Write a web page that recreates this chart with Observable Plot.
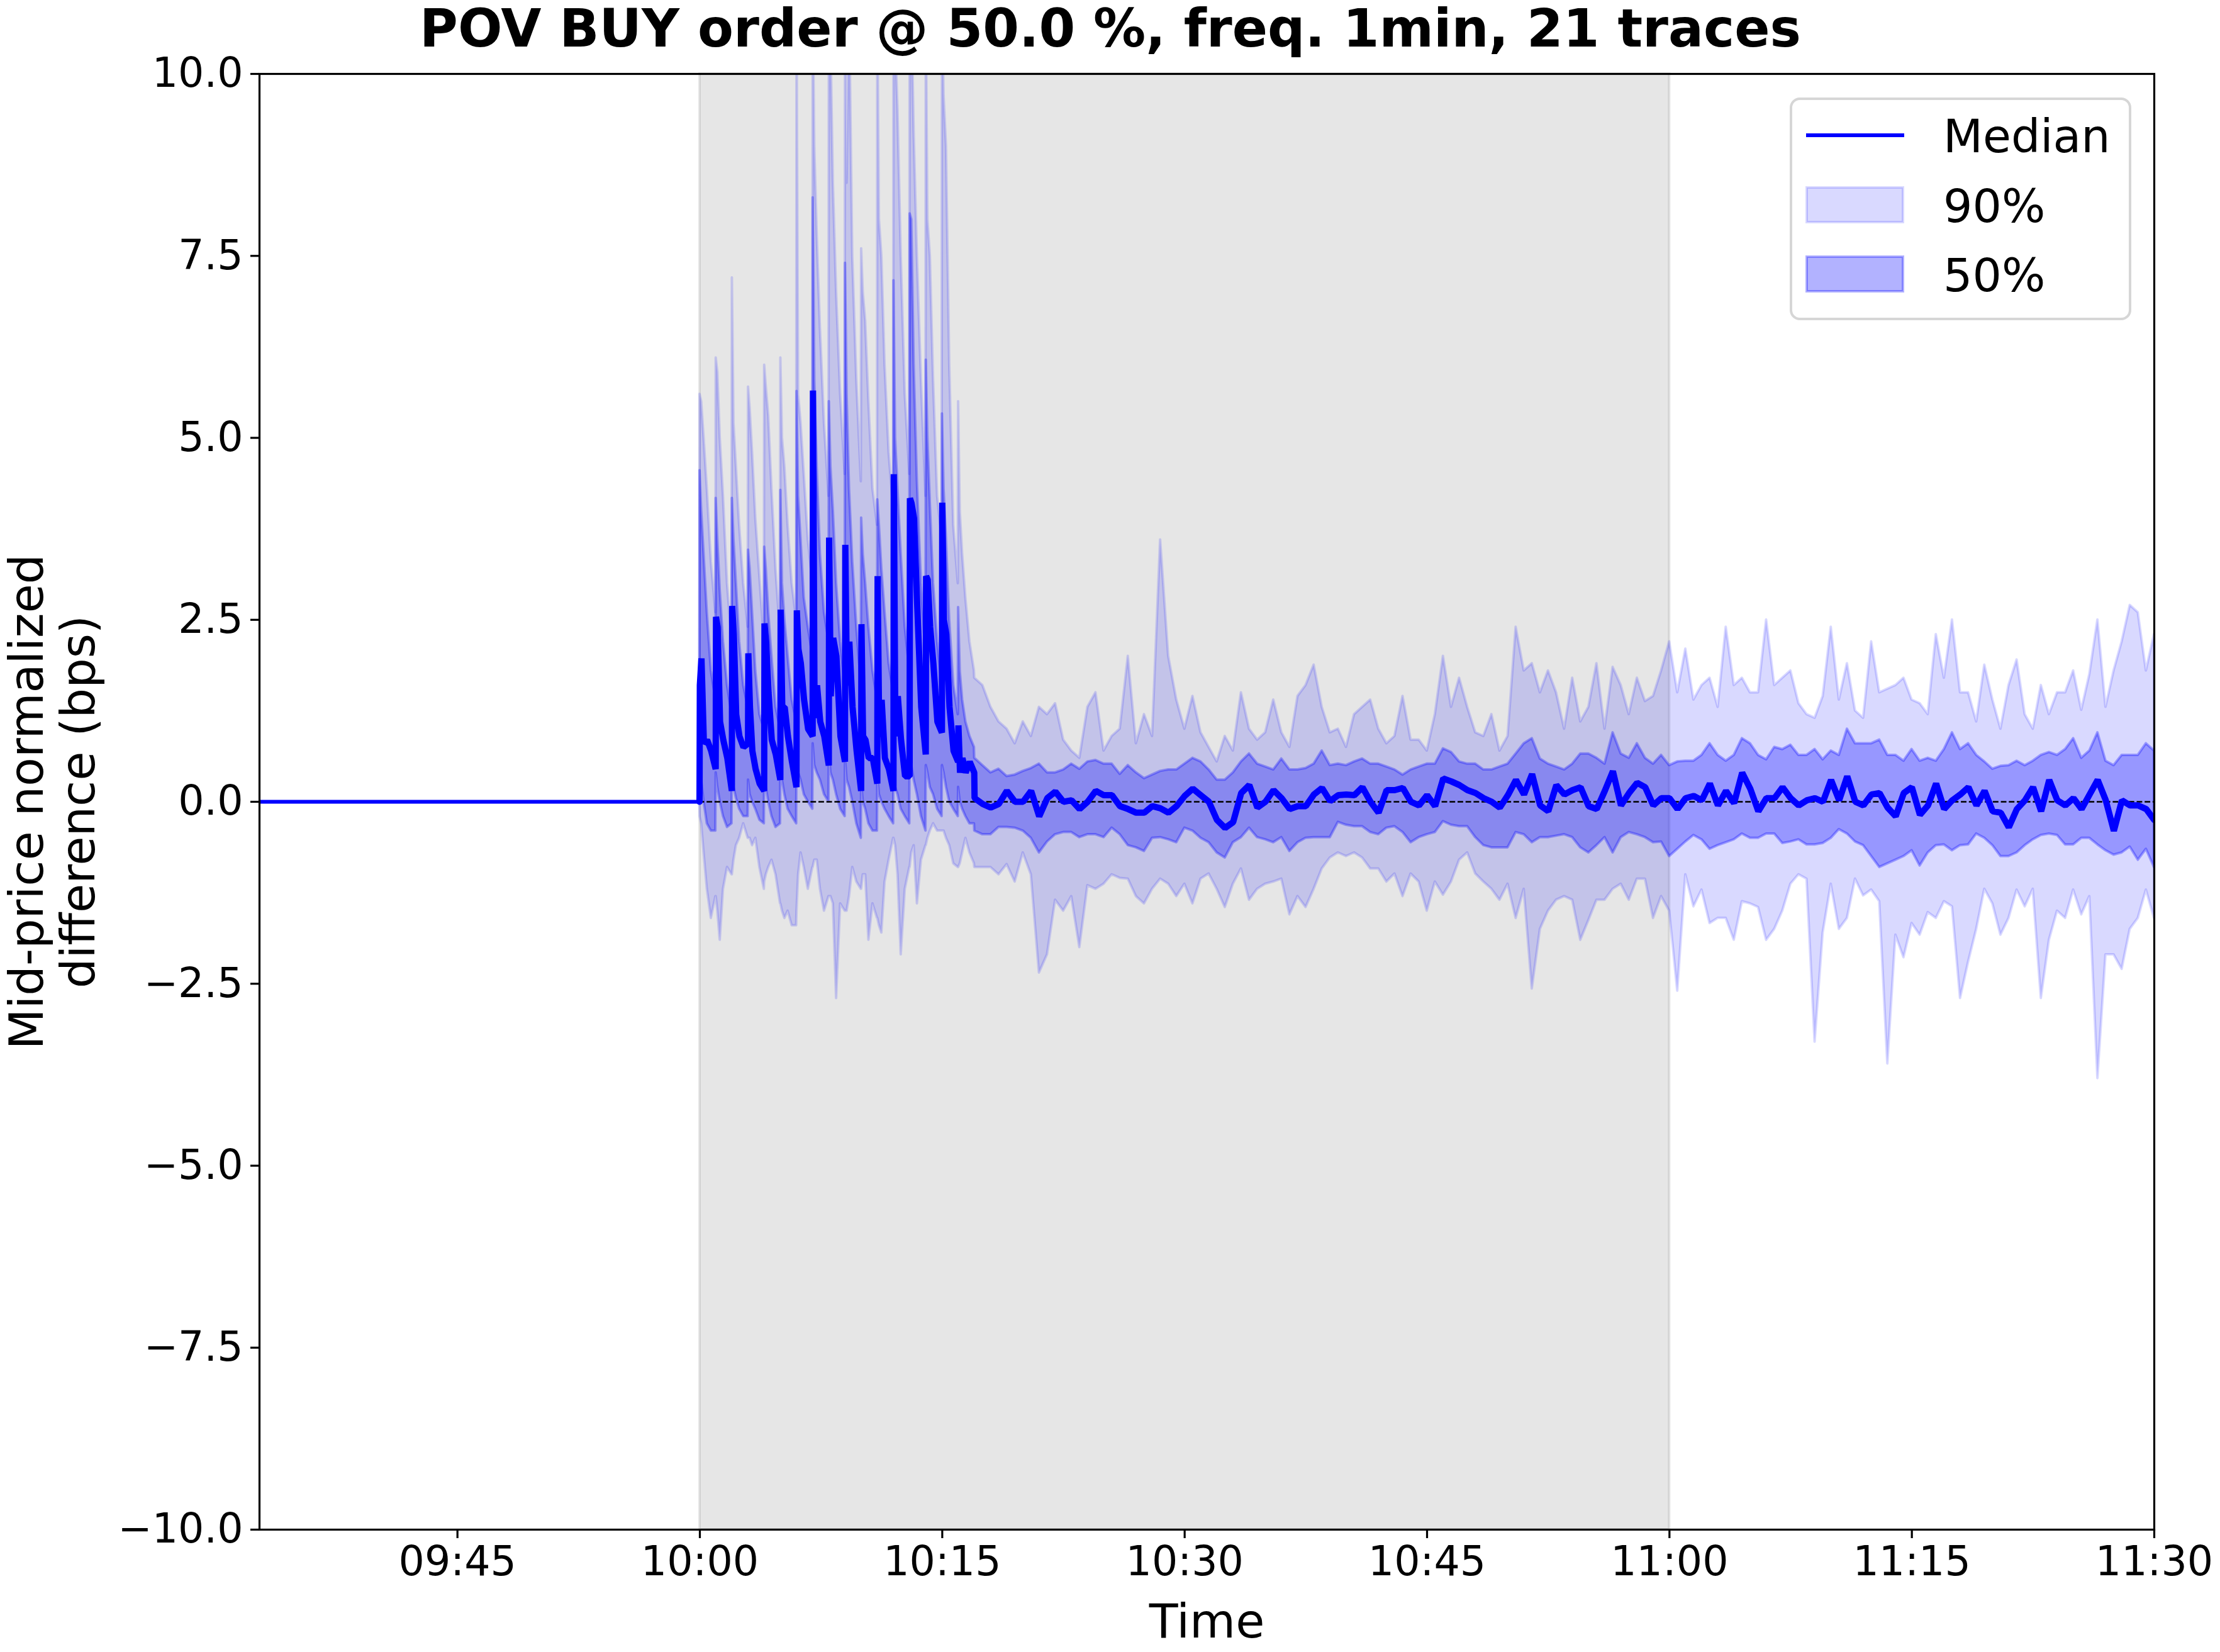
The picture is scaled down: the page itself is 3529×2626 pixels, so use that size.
<!DOCTYPE html>
<html>
<head>
<meta charset="utf-8">
<script src="https://cdn.jsdelivr.net/npm/d3@7"></script>
<script src="https://cdn.jsdelivr.net/npm/@observablehq/plot@0.6"></script>
<style>
  html, body { margin: 0; padding: 0; background: #fff; }
  #wrap { position: relative; width: 3529px; height: 2626px; font-family: "DejaVu Sans", sans-serif; }
  #legend { position: absolute; left: 2845px; top: 155px; }
</style>
</head>
<body>
<div id="wrap"></div>
<script>
// ---------------- DATA ----------------
const titleText = "POV BUY order @ 50.0 %, freq. 1min, 21 traces";
const xLabel = "Time";
const yLabel = "Mid-price normalized\ndifference (bps)";
const xTickLabels = ["09:45", "10:00", "10:15", "10:30", "10:45", "11:00", "11:15", "11:30"];
const yTickValues = [-10, -7.5, -5, -2.5, 0, 2.5, 5, 7.5, 10];
const xStartLabel = "09:32:45";   // left edge of the axes
const xEndLabel = "11:30:00";
const spanStartLabel = "10:00:00"; // shaded execution window
const spanEndLabel = "11:00:00";
const legendItems = ["Median", "90%", "50%"];

// Execution window 10:00-10:17: one sample set per minute (minutes after 10:00),
// values at offsets within each minute.
const spikeOffsets = [0, 0.1, 0.25, 0.45, 0.7, 0.98];
const spikeMinutes = [0, 1, 2, 3, 4, 5, 6, 7, 8, 9, 10, 11, 12, 13, 14, 15, 16];
const medSpike = [
  [1.6, 1.97, 0.8, 0.85, 0.7, 0.45],
  [2.54, 2.4, 1.1, 0.85, 0.6, 0.15],
  [2.69, 2.3, 1.2, 0.9, 0.75, 0.8],
  [2.04, 1.3, 0.7, 0.45, 0.25, 0.15],
  [2.45, 2.2, 1.5, 0.85, 0.65, 0.3],
  [2.64, 1.3, 1.3, 0.9, 0.55, 0.2],
  [2.63, 2.1, 1.9, 1.4, 1.0, 0.9],
  [5.65, 1.15, 1.6, 1.1, 0.9, 0.5],
  [3.63, 1.45, 2.25, 2.0, 0.9, 0.55],
  [3.53, 1.6, 2.2, 1.3, 0.7, 0.15],
  [2.44, 0.9, 0.85, 0.6, 0.6, 0.25],
  [3.1, 0.9, 1.4, 0.6, 0.45, 0.15],
  [4.5, 0.9, 1.45, 0.85, 0.35, 0.35],
  [4.17, 4.1, 3.9, 2.7, 1.3, 0.65],
  [3.1, 3.05, 2.4, 1.9, 1.1, 0.95],
  [4.11, 2.5, 2.3, 1.3, 0.7, 0.55],
  [1.05, 0.4, 0.6, 0.4, 0.55, 0.4]
];
const q95Spike = [
  [5.6, 5.5, 5.0, 4.3, 3.3, 2.6],
  [6.1, 5.9, 5.0, 4.2, 3.0, 2.2],
  [7.2, 5.2, 4.6, 3.8, 3.0, 2.4],
  [5.7, 5.4, 4.8, 3.9, 3.1, 2.2],
  [6.0, 5.7, 5.3, 4.3, 3.2, 2.3],
  [6.1, 5.0, 4.6, 3.8, 3.0, 2.5],
  [11, 5.6, 5.2, 4.5, 3.6, 3.0],
  [11, 9.0, 7.8, 6.5, 5.2, 4.2],
  [11, 10.5, 8.5, 7.0, 5.6, 4.5],
  [11, 8.5, 11, 7.5, 5.8, 4.4],
  [7.6, 7.0, 6.6, 5.5, 4.3, 3.8],
  [11, 8.0, 7.5, 6.0, 4.8, 4.0],
  [11, 10.5, 9.5, 7.5, 5.6, 4.5],
  [11, 11, 9.2, 7.5, 5.8, 4.2],
  [11, 8.0, 7.5, 5.8, 4.2, 3.6],
  [11, 9.7, 9.0, 6.0, 3.8, 3.0],
  [5.5, 4.0, 3.4, 2.8, 2.2, 1.8]
];
const q75Spike = [
  [4.55, 4.0, 3.4, 2.6, 1.8, 1.4],
  [4.17, 3.6, 2.9, 2.2, 1.6, 1.2],
  [4.17, 3.6, 3.0, 2.2, 1.6, 1.3],
  [3.46, 3.2, 2.6, 1.8, 1.2, 1.0],
  [3.5, 3.2, 2.6, 2.0, 1.3, 1.0],
  [4.28, 3.0, 2.5, 2.0, 1.4, 1.1],
  [5.64, 4.2, 3.6, 2.8, 2.4, 2.0],
  [8.3, 5.8, 4.6, 3.4, 2.6, 2.2],
  [5.5, 4.6, 4.0, 3.0, 2.2, 1.6],
  [7.4, 5.6, 4.3, 3.3, 2.4, 1.6],
  [3.9, 3.4, 3.0, 2.4, 1.8, 1.4],
  [4.15, 3.8, 3.2, 2.6, 1.9, 1.5],
  [7.16, 5.0, 4.3, 3.4, 2.4, 1.8],
  [8.08, 8.0, 6.0, 4.4, 3.0, 2.0],
  [6.07, 5.0, 4.1, 3.0, 2.2, 1.6],
  [5.33, 4.3, 3.6, 2.5, 1.6, 1.2],
  [2.67, 1.8, 1.4, 1.1, 0.9, 0.75]
];
const q25Spike = [
  [0.6, 0.3, 0.0, -0.3, -0.4, -0.4],
  [0.4, 0.2, 0.0, -0.2, -0.35, -0.3],
  [0.5, 0.2, 0.05, -0.1, -0.2, -0.2],
  [0.3, 0.1, 0.0, -0.1, -0.25, -0.3],
  [0.4, 0.2, 0.0, -0.2, -0.35, -0.3],
  [0.5, 0.3, 0.1, -0.1, -0.2, -0.3],
  [0.6, 0.4, 0.3, 0.1, 0.0, -0.1],
  [0.8, 0.5, 0.4, 0.3, 0.1, 0.0],
  [0.7, 0.4, 0.3, 0.1, -0.1, -0.2],
  [0.6, 0.3, 0.2, 0.0, -0.3, -0.5],
  [0.3, 0.0, -0.1, -0.3, -0.4, -0.4],
  [0.4, 0.1, 0.0, -0.1, -0.2, -0.3],
  [0.5, 0.2, 0.1, -0.1, -0.2, -0.3],
  [0.6, 0.5, 0.3, 0.1, -0.2, -0.4],
  [0.5, 0.4, 0.2, 0.1, -0.1, -0.2],
  [0.5, 0.4, 0.2, 0.0, -0.1, -0.2],
  [0.2, 0.0, -0.1, -0.2, -0.3, -0.3]
];
const q05Spike = [
  [-0.2, -0.3, -0.7, -1.2, -1.6, -1.3],
  [-1.3, -1.5, -1.9, -1.2, -0.9, -1.0],
  [-1.0, -0.8, -0.6, -0.5, -0.3, -0.5],
  [-0.5, -0.5, -0.6, -0.5, -0.9, -1.2],
  [-1.1, -1.0, -0.9, -0.8, -1.0, -1.4],
  [-1.4, -1.5, -1.6, -1.5, -1.7, -1.7],
  [-1.5, -1.0, -0.7, -0.9, -1.2, -0.9],
  [-0.9, -0.8, -0.8, -1.2, -1.5, -1.3],
  [-1.3, -1.3, -1.4, -2.7, -1.4, -1.5],
  [-1.5, -1.5, -1.3, -0.9, -1.1, -1.2],
  [-1.2, -1.0, -1.0, -1.9, -1.4, -1.6],
  [-1.6, -1.7, -1.8, -1.1, -0.8, -0.5],
  [-0.5, -0.6, -1.0, -2.1, -1.2, -0.9],
  [-0.9, -0.7, -0.6, -1.4, -0.8, -0.6],
  [-0.6, -0.5, -0.4, -0.3, -0.4, -0.4],
  [-0.4, -0.4, -0.5, -0.6, -0.85, -0.9],
  [-0.9, -0.85, -0.7, -0.5, -0.7, -0.85]
];

// After the bursts: one sample every half minute, 17.0 ... 90.0 minutes after 10:00
const lateStep = 0.5, lateStart = 17;
const medLate = [
  0.05,-0.03,-0.08,-0.03,0.15,
  0.0,0.0,0.15,-0.2,0.05,0.14,0.0,0.02,-0.1,0.0,
  0.15,0.09,0.09,-0.06,-0.1,-0.15,-0.15,-0.06,-0.09,-0.15,
  -0.06,0.08,0.18,0.09,0.0,-0.25,-0.36,-0.28,0.12,0.23,
  -0.08,0.0,0.16,0.05,-0.1,-0.06,-0.06,0.1,0.19,0.01,
  0.09,0.1,0.09,0.2,0.0,-0.15,0.16,0.16,0.19,0.0,
  -0.05,0.09,-0.06,0.32,0.28,0.23,0.16,0.12,0.05,0.0,
  -0.08,0.09,0.3,0.1,0.38,-0.05,-0.13,0.23,0.1,0.16,
  0.2,-0.06,-0.1,0.15,0.42,-0.05,0.12,0.26,0.2,-0.05,
  0.05,0.05,-0.1,0.05,0.08,0.02,0.25,-0.05,0.15,-0.02,
  0.4,0.18,-0.13,0.05,0.05,0.2,0.05,-0.05,0.02,0.05,
  0.0,0.3,0.02,0.35,0.0,-0.05,0.1,0.12,-0.08,-0.2,
  0.12,0.2,-0.18,-0.05,0.25,-0.1,0.02,0.1,0.2,-0.05,
  0.15,-0.13,-0.15,-0.35,-0.1,0.02,0.2,-0.13,0.3,0.02,
  -0.05,0.05,-0.1,0.1,0.3,0.02,-0.4,0.02,-0.05,-0.05,-0.1,-0.25
];
const q95Late = [
  1.7,1.6,1.3,1.1,1.0,
  0.8,1.1,0.9,1.3,1.2,1.35,0.85,0.7,0.6,1.3,
  1.5,0.7,0.9,1.0,2.0,0.8,1.2,0.9,3.6,2.0,
  1.4,1.0,1.45,0.95,0.75,0.55,0.9,0.7,1.5,1.0,
  0.85,0.95,1.4,0.95,0.75,1.45,1.6,1.88,1.3,0.95,
  1.0,0.75,1.2,1.3,1.4,1.0,0.8,0.9,1.45,0.85,
  0.85,0.7,1.2,2.0,1.3,1.7,1.3,0.95,0.9,1.2,
  0.7,0.9,2.4,1.8,1.9,1.5,1.8,1.5,1.0,1.7,
  1.1,1.3,1.9,1.0,1.85,1.6,1.2,1.7,1.38,1.45,
  1.8,2.2,1.5,2.1,1.4,1.6,1.7,1.3,2.4,1.6,
  1.7,1.5,1.5,2.5,1.6,1.7,1.8,1.35,1.2,1.15,
  1.45,2.4,1.4,1.9,1.25,1.15,2.2,1.5,1.55,1.6,
  1.7,1.4,1.35,1.2,2.3,1.7,2.5,1.5,1.5,1.1,
  1.88,1.4,1.0,1.6,1.95,1.2,1.0,1.6,1.2,1.5,
  1.5,1.8,1.26,1.75,2.5,1.3,1.8,2.2,2.7,2.6,1.8,2.3
];
const q75Late = [
  0.6,0.5,0.4,0.45,0.35,
  0.37,0.42,0.46,0.52,0.4,0.4,0.44,0.52,0.45,0.55,
  0.57,0.52,0.52,0.38,0.5,0.4,0.32,0.37,0.42,0.44,
  0.44,0.52,0.6,0.55,0.44,0.3,0.3,0.4,0.55,0.66,
  0.52,0.48,0.44,0.59,0.44,0.44,0.46,0.52,0.7,0.5,
  0.52,0.5,0.55,0.59,0.52,0.52,0.48,0.44,0.37,0.44,
  0.48,0.52,0.52,0.73,0.68,0.55,0.52,0.52,0.44,0.44,
  0.48,0.52,0.66,0.8,0.87,0.59,0.52,0.48,0.44,0.52,
  0.66,0.66,0.6,0.52,0.95,0.66,0.6,0.8,0.6,0.52,
  0.64,0.5,0.55,0.56,0.56,0.64,0.8,0.64,0.56,0.64,
  0.87,0.8,0.64,0.58,0.75,0.72,0.78,0.64,0.64,0.72,
  0.58,0.7,0.64,1.0,0.8,0.8,0.8,0.85,0.64,0.64,
  0.56,0.72,0.56,0.6,0.56,0.72,0.95,0.72,0.8,0.64,
  0.55,0.45,0.49,0.5,0.56,0.5,0.56,0.64,0.68,0.64,
  0.72,0.87,0.6,0.7,0.95,0.56,0.5,0.64,0.64,0.64,0.8,0.7
];
const q25Late = [
  -0.4,-0.45,-0.45,-0.35,-0.35,
  -0.36,-0.4,-0.5,-0.7,-0.55,-0.45,-0.42,-0.42,-0.49,-0.45,
  -0.45,-0.49,-0.36,-0.45,-0.6,-0.63,-0.68,-0.5,-0.49,-0.52,
  -0.56,-0.36,-0.4,-0.5,-0.56,-0.7,-0.77,-0.56,-0.49,-0.36,
  -0.49,-0.52,-0.56,-0.49,-0.68,-0.56,-0.5,-0.49,-0.49,-0.49,
  -0.28,-0.32,-0.34,-0.34,-0.42,-0.45,-0.36,-0.34,-0.42,-0.56,
  -0.49,-0.45,-0.42,-0.27,-0.32,-0.34,-0.34,-0.49,-0.6,-0.63,
  -0.63,-0.63,-0.42,-0.45,-0.56,-0.49,-0.49,-0.47,-0.45,-0.49,
  -0.63,-0.7,-0.6,-0.49,-0.7,-0.49,-0.42,-0.45,-0.49,-0.56,
  -0.55,-0.75,-0.65,-0.55,-0.46,-0.52,-0.65,-0.6,-0.56,-0.52,
  -0.44,-0.5,-0.5,-0.44,-0.44,-0.57,-0.55,-0.52,-0.59,-0.59,
  -0.57,-0.5,-0.38,-0.44,-0.55,-0.6,-0.75,-0.9,-0.85,-0.8,
  -0.75,-0.67,-0.88,-0.7,-0.6,-0.59,-0.67,-0.6,-0.59,-0.44,
  -0.5,-0.6,-0.75,-0.75,-0.7,-0.6,-0.52,-0.46,-0.44,-0.46,
  -0.59,-0.59,-0.5,-0.5,-0.59,-0.67,-0.73,-0.7,-0.62,-0.8,-0.65,-0.9
];
const q05Late = [
  -0.9,-0.9,-0.9,-1.0,-0.86,
  -1.1,-0.7,-1.0,-2.35,-2.1,-1.35,-1.5,-1.3,-2.0,-1.15,
  -1.2,-1.13,-1.0,-1.05,-1.06,-1.3,-1.4,-1.2,-1.06,-1.13,
  -1.3,-1.13,-1.4,-1.06,-0.99,-1.2,-1.45,-1.13,-0.92,-1.35,
  -1.2,-1.13,-1.1,-1.06,-1.55,-1.3,-1.45,-1.2,-0.92,-0.77,
  -0.7,-0.75,-0.7,-0.77,-0.92,-0.92,-1.1,-0.99,-1.3,-0.99,
  -1.1,-1.5,-1.1,-1.28,-1.1,-0.8,-0.7,-0.99,-1.1,-1.2,
  -1.35,-1.13,-1.6,-1.2,-2.57,-1.75,-1.5,-1.35,-1.3,-1.35,
  -1.9,-1.63,-1.35,-1.35,-1.2,-1.13,-1.35,-1.06,-1.06,-1.6,
  -1.3,-1.5,-2.6,-1.0,-1.44,-1.21,-1.67,-1.6,-1.6,-1.9,
  -1.37,-1.4,-1.45,-1.9,-1.75,-1.5,-1.13,-1.0,-1.06,-3.3,
  -1.8,-1.13,-1.75,-1.6,-1.06,-1.29,-1.21,-1.37,-3.6,-1.83,
  -2.14,-1.67,-1.83,-1.52,-1.6,-1.37,-1.44,-2.7,-2.2,-1.75,
  -1.2,-1.4,-1.83,-1.6,-1.21,-1.44,-1.2,-2.7,-1.9,-1.5,
  -1.6,-1.21,-1.55,-1.3,-3.8,-2.1,-2.1,-2.3,-1.75,-1.6,-1.21,-1.6
];

// ---------------- BUILD TABLE ----------------
const parseT = d3.utcParse("%H:%M:%S");
const parseHM = d3.utcParse("%H:%M");
const T0 = parseT("10:00:00");
const toDate = m => new Date(T0.getTime() + m * 60000);
const xStart = parseT(xStartLabel);
const xEnd = parseT(xEndLabel);
const preStartMin = (xStart - T0) / 60000;

const rows = [];
rows.push({t: toDate(preStartMin), med: 0, q05: 0, q25: 0, q75: 0, q95: 0});
rows.push({t: toDate(-0.02), med: 0, q05: 0, q25: 0, q75: 0, q95: 0});
spikeMinutes.forEach((m, i) => {
  spikeOffsets.forEach((o, k) => {
    rows.push({t: toDate(m + o), med: medSpike[i][k], q05: q05Spike[i][k], q25: q25Spike[i][k], q75: q75Spike[i][k], q95: q95Spike[i][k]});
  });
});
medLate.forEach((v, i) => {
  const m = lateStart + i * lateStep;
  rows.push({t: toDate(m), med: v, q05: q05Late[i], q25: q25Late[i], q75: q75Late[i], q95: q95Late[i]});
});
const rowsBefore = rows.filter(d => d.t <= toDate(-0.02));
const rowsAfter = rows.filter(d => d.t >= toDate(-0.02));

const span = [{a: parseT(spanStartLabel), b: parseT(spanEndLabel)}];
const xTicks = xTickLabels.map(s => parseHM(s));

// ---------------- PLOT ----------------
const W = 3529;
const mL = 412, mR = 105;
const chart = Plot.plot({
  width: W,
  height: 2626,
  marginLeft: mL,
  marginRight: mR,
  marginTop: 117,
  marginBottom: 195,
  style: {fontFamily: "DejaVu Sans, sans-serif", background: "white", color: "black", overflow: "visible"},
  x: {type: "utc", domain: [xStart, xEnd]},
  y: {domain: [-10, 10]},
  marks: [
    Plot.rect(span, {x1: "a", x2: "b", y1: () => -10, y2: () => 10, fill: "gray", fillOpacity: 0.2, stroke: "gray", strokeOpacity: 0.2, strokeWidth: 4}),
    Plot.areaY(rows, {x: "t", y1: "q05", y2: "q95", fill: "blue", fillOpacity: 0.15, stroke: "blue", strokeOpacity: 0.15, strokeWidth: 4, clip: true}),
    Plot.areaY(rows, {x: "t", y1: "q25", y2: "q75", fill: "blue", fillOpacity: 0.3, stroke: "blue", strokeOpacity: 0.3, strokeWidth: 4, clip: true}),
    Plot.ruleY([0], {stroke: "black", strokeWidth: 2.4, strokeDasharray: "8.9,3.8"}),
    Plot.lineY(rowsBefore, {x: "t", y: "med", stroke: "blue", strokeWidth: 6, clip: true}),
    Plot.lineY(rowsAfter, {x: "t", y: "med", stroke: "blue", strokeWidth: 10, strokeLinejoin: "miter", clip: true}),
    Plot.frame({stroke: "black", strokeWidth: 3.2}),
    Plot.axisX({ticks: xTicks, tickFormat: d3.utcFormat("%H:%M"), tickSize: 14, tickPadding: 12, fontSize: 65, strokeWidth: 3.2, label: null}),
    Plot.axisY({ticks: yTickValues, tickFormat: d3.format(".1f"), tickSize: 14, tickPadding: 12, fontSize: 65, strokeWidth: 3.2, label: null}),
    // suptitle: centred on the whole figure
    Plot.text([titleText], {frameAnchor: "top", lineAnchor: "middle", dx: W / 2 - (mL + (W - mL - mR) / 2), dy: -70, fontSize: 83, fontWeight: "bold", fill: "black"}),
    Plot.text([xLabel], {frameAnchor: "bottom", lineAnchor: "middle", dy: 147, fontSize: 75, fill: "black"}),
    Plot.text([yLabel], {frameAnchor: "left", textAnchor: "middle", lineAnchor: "middle", dx: -330, rotate: -90, fontSize: 75, lineHeight: 1.1, fill: "black"})
  ]
});
document.getElementById("wrap").appendChild(chart);

// ---------------- LEGEND ----------------
const ns = "http://www.w3.org/2000/svg";
const lg = document.createElementNS(ns, "svg");
lg.setAttribute("id", "legend");
lg.setAttribute("width", 543);
lg.setAttribute("height", 354);
lg.setAttribute("font-family", "DejaVu Sans, sans-serif");
function el(tag, attrs, text) {
  const e = document.createElementNS(ns, tag);
  for (const k in attrs) e.setAttribute(k, attrs[k]);
  if (text != null) e.textContent = text;
  lg.appendChild(e);
  return e;
}
el("rect", {x: 2, y: 2, width: 539, height: 350, rx: 14, fill: "white", "fill-opacity": 0.8, stroke: "#d6d6d6", "stroke-width": 4});
el("line", {x1: 26, x2: 182, y1: 60, y2: 60, stroke: "blue", "stroke-width": 6});
el("rect", {x: 27, y: 143, width: 153, height: 55, fill: "blue", "fill-opacity": 0.15, stroke: "blue", "stroke-opacity": 0.15, "stroke-width": 4});
el("rect", {x: 27, y: 253, width: 153, height: 55, fill: "blue", "fill-opacity": 0.3, stroke: "blue", "stroke-opacity": 0.3, "stroke-width": 4});
[87, 198, 308].forEach((yb, i) => el("text", {x: 244, y: yb, "font-size": 73, fill: "black"}, legendItems[i]));
document.getElementById("wrap").appendChild(lg);
</script>
</body>
</html>
